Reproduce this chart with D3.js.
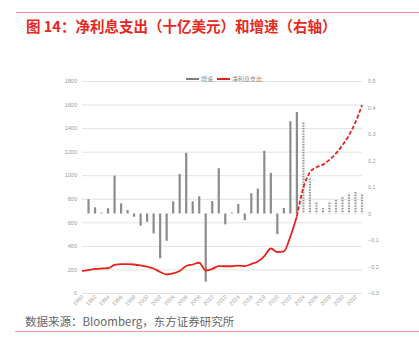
<!DOCTYPE html>
<html><head><meta charset="utf-8">
<script src="https://cdn.jsdelivr.net/npm/d3@7"></script>
<style>
body{margin:0;background:#fff;}
svg{display:block;font-family:"Noto Sans CJK SC","Noto Sans",sans-serif;}
</style></head>
<body><svg id="c" width="419" height="350"></svg>
<script>
const years = [1990,1991,1992,1993,1994,1995,1996,1997,1998,1999,2000,2001,2002,2003,2004,2005,2006,2007,2008,2009,2010,2011,2012,2013,2014,2015,2016,2017,2018,2019,2020,2021,2022,2023,2024,2025,2026,2027,2028,2029,2030,2031,2032,2033];
const netInterest = [187,195,204,208,210,238,246,246,242,234,223,208,178,157,166,187,229,242,257,191,204,229,227,227,232,229,246,267,314,378,348,354,480,650,895,1025,1068,1090,1130,1185,1255,1340,1450,1595];
const growth = [null,0.054,0.023,0.003,0.02,0.143,0.038,0.013,-0.012,-0.046,-0.031,-0.075,-0.169,-0.103,0.046,0.149,0.229,0.046,0.065,-0.257,0.047,0.171,-0.041,0.003,0.036,-0.025,0.076,0.094,0.237,0.153,-0.078,0.021,0.348,0.383,0.346,0.136,0.045,0.023,0.045,0.054,0.066,0.076,0.082,0.076];
const lastActual = 2023;
const leftTicks = [0,200,400,600,800,1000,1200,1400,1600,1800];
const rightTicks = [-0.3,-0.2,-0.1,0,0.1,0.2,0.3,0.4,0.5];
const xTickYears = years.filter(y => y % 2 === 0 && y <= 2032);
const title = "图 14：净利息支出（十亿美元）和增速（右轴）";
const source = "数据来源：Bloomberg，东方证券研究所";
const legendNames = ["增速","净利息支出"];

const svg = d3.select("#c");
const L = 82, R = 362, T = 81, B = 293;
const x = d3.scalePoint().domain(years).range([L, R]);
const yL = d3.scaleLinear().domain([0,1800]).range([B, T]);
const yR = d3.scaleLinear().domain([-0.3,0.5]).range([B, T]);

// header / footer lines
svg.append("line").attr("x1",16).attr("x2",419).attr("y1",12.5).attr("y2",12.5).attr("stroke","#ee8d86").attr("stroke-width",1);
svg.append("text").attr("x",26).attr("y",31.5).attr("fill","#e8281e").attr("font-size",14.5).attr("font-weight","bold").text(title);
svg.append("line").attr("x1",15).attr("x2",419).attr("y1",331.5).attr("y2",331.5).attr("stroke","#f0a29b").attr("stroke-width",1.2);
svg.append("text").attr("x",25).attr("y",326).attr("fill","#666").attr("font-size",11.5).text(source);

// gridlines
svg.append("g").selectAll("line").data(leftTicks).join("line")
  .attr("x1",L).attr("x2",R).attr("y1",d=>yL(d)+0.5).attr("y2",d=>yL(d)+0.5)
  .attr("stroke","#e3e3e3").attr("stroke-width",1);

// axes
const gl = svg.append("g").attr("transform",`translate(${L},0)`)
  .call(d3.axisLeft(yL).tickValues(leftTicks).tickSize(0).tickPadding(5).tickFormat(d3.format("d")));
gl.select(".domain").remove();
gl.selectAll("text").attr("fill","#999").attr("font-size",5.5).attr("font-family","Liberation Sans, sans-serif");

const gr = svg.append("g").attr("transform",`translate(${R},0)`)
  .call(d3.axisRight(yR).tickValues(rightTicks).tickSize(0).tickPadding(6).tickFormat(d => d3.format("~g")(+d.toFixed(1))));
gr.select(".domain").remove();
gr.selectAll("text").attr("fill","#999").attr("font-size",5.5).attr("font-family","Liberation Sans, sans-serif");

const gx = svg.append("g").attr("transform",`translate(0,${B+3})`)
  .call(d3.axisBottom(x).tickValues(xTickYears).tickSize(0).tickPadding(0));
gx.select(".domain").remove();
gx.selectAll("text").attr("fill","#999").attr("font-size",5.5).attr("font-family","Liberation Sans, sans-serif")
  .attr("text-anchor","end").attr("dy","0.35em").attr("transform","rotate(-45)");

// pattern for forecast bars
const defs = svg.append("defs");
const pat = defs.append("pattern").attr("id","dots").attr("patternUnits","userSpaceOnUse").attr("width",1.2).attr("height",1.6);
pat.append("rect").attr("width",1.2).attr("height",0.8).attr("fill","#8a8a8a");

// bars
const bw = 2.2;
const barData = years.map((yr,i)=>({yr, v:growth[i]})).filter(d=>d.v!==null);
svg.append("g").selectAll("rect").data(barData).join("rect")
  .attr("x",d=>x(d.yr)-bw/2).attr("width",bw)
  .attr("y",d=>Math.min(yR(d.v),yR(0)))
  .attr("height",d=>Math.max(0.8,Math.abs(yR(d.v)-yR(0))))
  .attr("fill",d=>d.yr<=lastActual ? "#8c8c8c" : "url(#dots)");

// line
const pts = years.map((yr,i)=>({yr, v:netInterest[i]}));
const line = d3.line().x(d=>x(d.yr)).y(d=>yL(d.v)).curve(d3.curveMonotoneX);
svg.append("path").datum(pts.filter(d=>d.yr<=lastActual))
  .attr("d",line).attr("fill","none").attr("stroke","#e8211b").attr("stroke-width",1.8);
svg.append("path").datum(pts.filter(d=>d.yr>=lastActual))
  .attr("d",line).attr("fill","none").attr("stroke","#e8211b").attr("stroke-width",1.8).attr("stroke-dasharray","4,2");

// legend
const lg = svg.append("g");
lg.append("line").attr("x1",186).attr("x2",199).attr("y1",79).attr("y2",79).attr("stroke","#7f7f7f").attr("stroke-width",2);
lg.append("text").attr("x",201).attr("y",81).attr("font-size",6).attr("fill","#888").text(legendNames[0]);
lg.append("line").attr("x1",217).attr("x2",230).attr("y1",79).attr("y2",79).attr("stroke","#e8211b").attr("stroke-width",2);
lg.append("text").attr("x",232).attr("y",81).attr("font-size",6).attr("fill","#888").text(legendNames[1]);
</script></body></html>
